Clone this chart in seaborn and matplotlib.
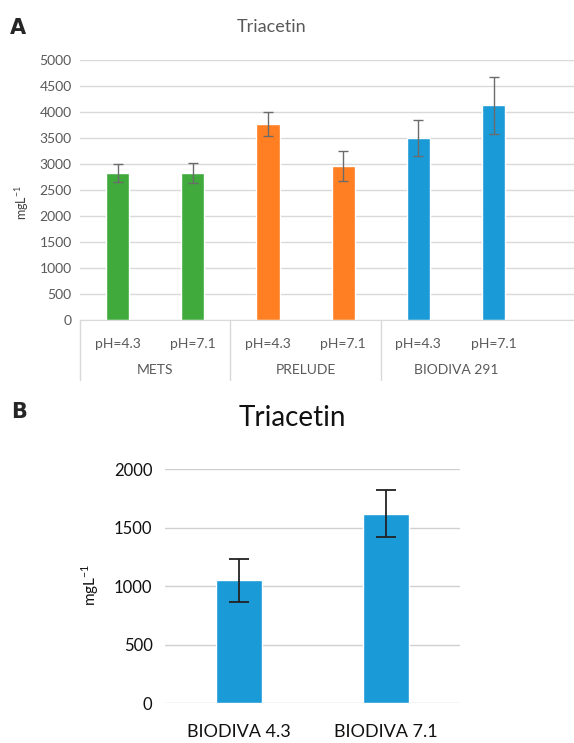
import numpy as np
import pandas as pd
import matplotlib
matplotlib.use("Agg")
import matplotlib.pyplot as plt
import seaborn as sns

# Panel A data
a_labels = ["pH=4.3", "pH=7.1", "pH=4.3", "pH=7.1", "pH=4.3", "pH=7.1"]
a_groups = ["METS", "PRELUDE", "BIODIVA 291"]
a_values = [2825, 2830, 3770, 2960, 3505, 4125]
a_errors = [170, 190, 230, 295, 350, 550]
a_colors = ["#40AA3C", "#40AA3C", "#FF7F22", "#FF7F22", "#1A9AD6", "#1A9AD6"]

# Panel B data
b_labels = ["BIODIVA 4.3", "BIODIVA 7.1"]
b_values = [1050, 1620]
b_errors = [185, 200]
b_color = "#1A9AD6"

sns.set_style("white")
plt.rcParams['font.family'] = ['Lato', 'DejaVu Sans']

W, H = 574, 743
fig = plt.figure(figsize=(W / 100, H / 100), dpi=100)

def frac(x0, y0, x1, y1):
    # pixel box (top-left origin) -> figure fraction rect
    return [x0 / W, 1 - y1 / H, (x1 - x0) / W, (y1 - y0) / H]

unit = r"mgL$^{\mathregular{-1}}$"

# ---------- Panel A ----------
axA = fig.add_axes(frac(80, 60, 574, 320))
dfA = pd.DataFrame({"pos": range(len(a_values)), "val": a_values})
sns.barplot(data=dfA, x="pos", y="val", hue="pos", palette=a_colors,
            legend=False, width=0.31, ax=axA, saturation=1)
axA.errorbar(range(len(a_values)), a_values, yerr=a_errors, fmt="none",
             ecolor="#6b6b6b", elinewidth=1, capsize=3.5, capthick=1)
axA.set_xlim(-0.5, 6.07)
axA.set_ylim(0, 5000)
axA.set_yticks(np.arange(0, 5001, 500))
axA.yaxis.grid(True, color="#d9d9d9", linewidth=1)
axA.set_axisbelow(True)
for s in ["top", "right", "left"]:
    axA.spines[s].set_visible(False)
axA.spines["bottom"].set_color("#d9d9d9")
axA.set_xticks(range(len(a_labels)))
axA.set_xticklabels(a_labels, color="#595959", fontsize=10)
axA.tick_params(axis="x", length=0, pad=13)
axA.tick_params(axis="y", length=0, pad=6, labelcolor="#595959", labelsize=10)
axA.set_xlabel("")
axA.set_ylabel("")
tr = axA.get_xaxis_transform()
for i, g in enumerate(a_groups):
    axA.text(2 * i + 0.5, -0.192, g, transform=tr, ha="center", va="center",
             color="#595959", fontsize=10)
    axA.plot([2 * i - 0.5, 2 * i - 0.5], [0, -0.23], transform=tr,
             color="#d9d9d9", linewidth=1, clip_on=False)
fig.text(272 / W, 1 - 27 / H, "Triacetin", ha="center", va="center",
         color="#595959", fontsize=13)
fig.text(22 / W, 1 - 203 / H, unit, rotation=90, ha="center",
         va="center", color="#404040", fontsize=9)
fig.text(18 / W, 1 - 28 / H, "A", ha="center", va="center",
         fontsize=15, fontweight="bold", family="DejaVu Sans")

# ---------- Panel B ----------
axB = fig.add_axes(frac(165, 469, 460, 703.3))
dfB = pd.DataFrame({"lab": b_labels, "val": b_values})
sns.barplot(data=dfB, x="lab", y="val", color=b_color, width=0.31,
            ax=axB, saturation=1)
axB.errorbar(range(len(b_values)), b_values, yerr=b_errors, fmt="none",
             ecolor="#222222", elinewidth=1.3, capsize=7, capthick=1.3)
axB.set_xlim(-0.5, 1.5)
axB.set_ylim(0, 2000)
axB.set_yticks(np.arange(0, 2001, 500))
axB.yaxis.grid(True, color="#d0d0d0", linewidth=1)
axB.set_axisbelow(True)
for s in ["top", "right", "left", "bottom"]:
    axB.spines[s].set_visible(False)
axB.tick_params(axis="x", length=0, pad=15, labelsize=13, labelcolor="#111111")
axB.tick_params(axis="y", length=0, pad=9, labelsize=12, labelcolor="#111111")
axB.set_xlabel("")
axB.set_ylabel("")
fig.text(292 / W, 1 - 418 / H, "Triacetin", ha="center", va="center",
         color="#111111", fontsize=20)
fig.text(90 / W, 1 - 585 / H, unit, rotation=90, ha="center",
         va="center", color="#111111", fontsize=11)
fig.text(19 / W, 1 - 412 / H, "B", ha="center", va="center",
         fontsize=15, fontweight="bold", family="DejaVu Sans")

fig.savefig("out.png", dpi=100)
